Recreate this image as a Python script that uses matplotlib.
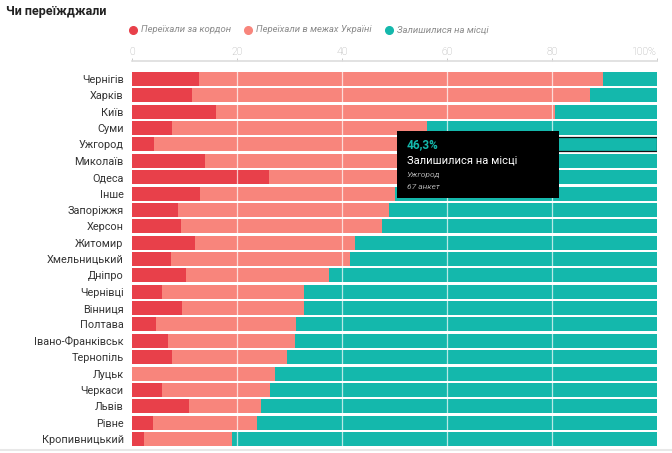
import matplotlib
matplotlib.use("Agg")
import matplotlib.pyplot as plt
from matplotlib.lines import Line2D
from matplotlib.patches import Rectangle
import numpy as np

plt.rcParams["font.family"] = ["Roboto", "DejaVu Sans"]

cities = ["Чернігів", "Харків", "Київ", "Суми", "Ужгород", "Миколаїв", "Одеса",
          "Інше", "Запоріжжя", "Херсон", "Житомир", "Хмельницький", "Дніпро",
          "Чернівці", "Вінниця", "Полтава", "Івано-Франківськ", "Тернопіль",
          "Луцьк", "Черкаси", "Львів", "Рівне", "Кропивницький"]
abroad = [12.7, 11.4, 16.0, 7.6, 4.2, 13.9, 26.1, 12.9, 8.8, 9.3, 12.0, 7.5, 10.3,
          5.8, 9.6, 4.5, 6.9, 7.6, 0.0, 5.8, 10.9, 4.0, 2.3]
inside = [77.1, 75.8, 64.5, 48.6, 49.5, 38.9, 25.3, 37.1, 40.2, 38.3, 30.4, 34.1, 27.2,
          27.0, 23.1, 26.7, 24.1, 21.9, 27.2, 20.5, 13.6, 19.8, 16.7]
stayed = [10.2, 12.8, 19.5, 43.8, 46.3, 47.2, 48.6, 50.0, 51.0, 52.4, 57.6, 58.4, 62.5,
          67.2, 67.3, 68.8, 69.0, 70.5, 72.8, 73.7, 75.5, 76.2, 81.0]
series_names = ["Переїхали за кордон", "Переїхали в межах Україні", "Залишилися на місці"]
colors = ["#e8404a", "#f8857c", "#14b8ac"]
ticks = [0, 20, 40, 60, 80, 100]
tick_labels = ["0", "20", "40", "60", "80", "100%"]

hover_city = "Ужгород"
hover_answers = 67

fig = plt.figure(figsize=(6.72, 4.53), dpi=100)
ax = fig.add_axes([132 / 672, 1 - 447.2 / 453, 525 / 672, (447.2 - 70.8) / 453])

# spines first: set_position resets the ticks
for s in ["left", "right", "bottom"]:
    ax.spines[s].set_visible(False)
ax.spines["top"].set_position(("outward", 7))
ax.spines["top"].set_color("#dddddd")
ax.spines["top"].set_linewidth(1.2)

y = np.arange(len(cities))
left = np.zeros(len(cities))
for vals, c in zip([abroad, inside, stayed], colors):
    ax.barh(y, vals, left=left, height=0.86, color=c, zorder=2)
    left = left + np.array(vals)

# hovered segment outline
hi = cities.index(hover_city)
ax.barh(hi, stayed[hi], left=100 - stayed[hi], height=0.86, facecolor="none",
        edgecolor="#111111", linewidth=0.9, zorder=3)

for t in ticks[1:-1]:
    ax.axvline(t, color="white", linewidth=0.9, alpha=0.7, zorder=4)

ax.set_xlim(0, 100)
ax.set_ylim(len(cities) - 0.5, -0.5)
ax.set_yticks(y)
ax.set_yticklabels(cities, fontsize=7.8, color="#333333")
ax.tick_params(axis="y", length=0, pad=6)
ax.xaxis.tick_top()
ax.tick_params(axis="x", length=2.5, width=0.7, color="#c8c8c8", pad=0.5, direction="out",
               labelsize=7.5, labelcolor="#a8a8a8")
ax.set_xticks(ticks)
ax.set_xticklabels(tick_labels, fontweight="light")
ax.xaxis.get_major_ticks()[-1].label2.set_horizontalalignment("right")

# tooltip
bx0, bx1 = 50.4, 81.4
by0, by1 = hi - 0.8, hi + 3.3
ax.add_patch(Rectangle((bx0, by0), bx1 - bx0, by1 - by0, facecolor="black",
                       edgecolor="none", zorder=6))
tx = bx0 + 1.9
ax.text(tx, hi + 0.03, f"{stayed[hi]:.1f}%".replace(".", ","), color="#14b8ac",
        fontsize=8.5, fontweight="bold", va="center", zorder=7)
ax.text(tx, hi + 0.98, series_names[2], color="white", fontsize=8,
        va="center", zorder=7)
ax.text(tx, hi + 1.88, hover_city, color="#aaaaaa", fontsize=6, style="italic",
        va="center", zorder=7)
ax.text(tx, hi + 2.6, f"{hover_answers} анкет", color="#aaaaaa", fontsize=6,
        style="italic", va="center", zorder=7)

# title and legend
fig.text(6 / 672, 1 - 12 / 453, "Чи переїжджали", fontsize=9, fontweight="bold",
         color="#222222", va="center")
leg_x = [133, 248, 389]
for lx, name, c in zip(leg_x, series_names, colors):
    fig.add_artist(Line2D([lx / 672], [1 - 29.5 / 453], marker="o", markersize=5.5,
                          color=c, linestyle="none"))
    fig.text((lx + 8) / 672, 1 - 29.5 / 453, name, fontsize=6.8, style="italic",
             color="#8a8a8a", va="center")

fig.add_artist(Line2D([0, 1], [1 - 450 / 453] * 2, color="#e8e8e8", linewidth=1.5))

fig.savefig("out.png", dpi=100)
